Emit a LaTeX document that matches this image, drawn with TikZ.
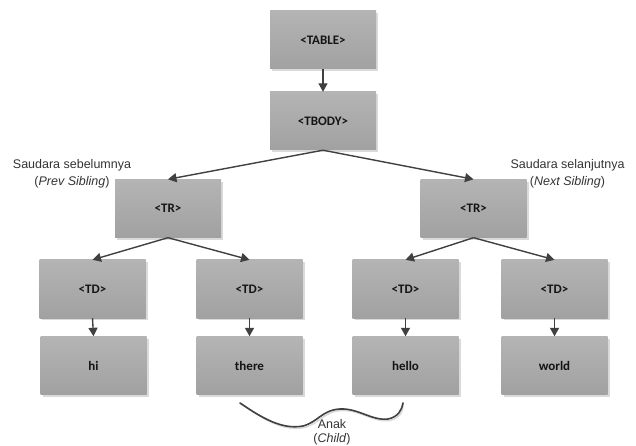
\documentclass[tikz,border=0pt]{standalone}
\usepackage{fontspec}
\setmainfont{Liberation Sans}
\newfontfamily\boxfont{Carlito}
\usetikzlibrary{shadows,arrows.meta}

\definecolor{boxtop}{RGB}{180,180,180}
\definecolor{boxbot}{RGB}{161,161,161}
\definecolor{shade}{RGB}{218,218,218}
\definecolor{linecol}{RGB}{64,64,64}

\tikzset{
  tagbox/.style={rectangle, minimum width=106bp, minimum height=58bp, inner sep=0pt,
    top color=boxtop, bottom color=boxbot, draw=none,
    drop shadow={shadow xshift=2.2bp, shadow yshift=-2.2bp, fill=shade, opacity=1},
    font=\boxfont\bfseries\fontsize{13bp}{14bp}\selectfont, text=black!92},
  link/.style={draw=linecol, line width=1.4bp, -{Triangle[length=8.5bp,width=9bp]}},
  note/.style={font=\fontsize{12.5bp}{17bp}\selectfont, text=black!80, align=center, inner sep=0pt},
  curl/.style={draw=linecol, line width=1.6bp, line cap=round}
}

\begin{document}
\begin{tikzpicture}[x=1bp, y=-1bp]
  \useasboundingbox (0,0) rectangle (636,446);

  % tree of tags
  \node[tagbox] (table) at (323,40)    {<TABLE>};
  \node[tagbox] (tbody) at (323,121)   {<TBODY>};
  \node[tagbox] (trl)   at (168,208.5) {<TR>};
  \node[tagbox] (trr)   at (473.5,208.5) {<TR>};
  \node[tagbox] (td1)   at (92.5,289)  {<TD>};
  \node[tagbox] (td2)   at (249.5,289) {<TD>};
  \node[tagbox] (td3)   at (405.5,289) {<TD>};
  \node[tagbox] (td4)   at (554.5,289) {<TD>};
  \node[tagbox] (hi)    at (93.5,365.5)  {hi};
  \node[tagbox] (there) at (249.5,365.5) {there};
  \node[tagbox] (hello) at (405.5,365.5) {hello};
  \node[tagbox] (world) at (554.5,365.5) {world};

  % parent to child links
  \draw[link] (table.south) -- (tbody.north);
  \draw[link] (tbody.south) -- (trl.north);
  \draw[link] (tbody.south) -- (trr.north);
  \draw[link] (trl.south) -- (td1.north);
  \draw[link] (trl.south) -- (td2.north);
  \draw[link] (trr.south) -- (td3.north);
  \draw[link] (trr.south) -- (td4.north);
  \draw[link] (td1.south) -- (hi.north);
  \draw[link] (td2.south) -- (there.north);
  \draw[link] (td3.south) -- (hello.north);
  \draw[link] (td4.south) -- (world.north);

  % sibling labels
  \node[note] (prev) at (72,173.5) {Saudara sebelumnya\\(\textit{Prev Sibling})};
  \node[note] (next) at (567.5,173.5) {Saudara selanjutnya\\(\textit{Next Sibling})};

  % brace-like curl under the child nodes
  \coordinate (c0) at (240,403);
  \coordinate (c1) at (403,403);
  \draw[draw=shade, line width=1.6bp, line cap=round, shift={(1.5,1.5)}]
    (c0) .. controls (262,418) and (282,430) .. (303,426)
         .. controls (318,422) and (322,410) .. (340,409)
         .. controls (358,408) and (372,421) .. (388,419)
         .. controls (398,417) and (402,410) .. (c1);
  \draw[curl]
    (c0) .. controls (262,418) and (282,430) .. (303,426)
         .. controls (318,422) and (322,410) .. (340,409)
         .. controls (358,408) and (372,421) .. (388,419)
         .. controls (398,417) and (402,410) .. (c1);
  \node[note, font=\fontsize{12.5bp}{13.5bp}\selectfont] (child) at (332,432.5) {Anak\\(\textit{Child})};
\end{tikzpicture}
\end{document}
